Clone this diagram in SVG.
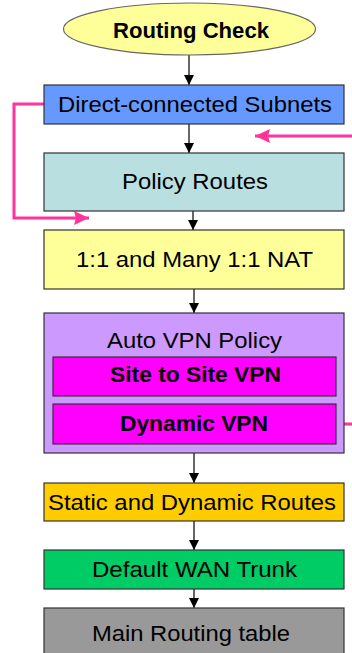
<svg xmlns="http://www.w3.org/2000/svg" width="352" height="653" viewBox="0 0 352 653">
<defs>
<marker id="ah" markerUnits="userSpaceOnUse" markerWidth="10" markerHeight="12" refX="10" refY="5" orient="auto">
<path d="M0,0 L10,5 L0,10 Z" fill="#000"/>
</marker>
<marker id="pk" markerUnits="userSpaceOnUse" markerWidth="16" markerHeight="16" refX="15" refY="7" orient="auto">
<path d="M0,0 L15,7 L0,14 L2,7 Z" fill="#FF3399"/>
</marker>
</defs>
<style>
.box{stroke:#333;stroke-width:1.2}
.t{font-family:"Liberation Sans",Arial,sans-serif;font-size:22px;fill:#000;text-anchor:middle}
.b{font-weight:bold}
.c{stroke:#000;stroke-width:1.2;fill:none}
.p{stroke:#FF3399;stroke-width:3;fill:none}
</style>
<rect width="352" height="653" fill="#fff"/>
<g id="connectors">
<line class="c" x1="189" y1="55" x2="189" y2="85" marker-end="url(#ah)"/>
<line class="c" x1="189" y1="124" x2="189" y2="153" marker-end="url(#ah)"/>
<line class="c" x1="193" y1="211" x2="193" y2="230" marker-end="url(#ah)"/>
<line class="c" x1="194" y1="289" x2="194" y2="313" marker-end="url(#ah)"/>
<line class="c" x1="194" y1="453" x2="194" y2="483" marker-end="url(#ah)"/>
<line class="c" x1="194" y1="521" x2="194" y2="550" marker-end="url(#ah)"/>
<line class="c" x1="194" y1="589" x2="194" y2="608" marker-end="url(#ah)"/>
<polyline class="p" points="44,104 14,104 14,218 89,218" marker-end="url(#pk)"/>
<line class="p" x1="352" y1="136" x2="255" y2="136" marker-end="url(#pk)"/>
<line class="p" x1="325" y1="424" x2="352" y2="424"/>
</g>
<g id="routing-check">
<ellipse cx="189.5" cy="29" rx="126" ry="26" fill="#FFFF99" stroke="#666" stroke-width="1.2"/>
<text class="t b" x="191" y="38" textLength="156" lengthAdjust="spacingAndGlyphs">Routing Check</text>
</g>
<g id="direct-connected">
<rect class="box" x="44" y="85" width="300" height="39" fill="#6699FF"/>
<text class="t" x="195" y="112" textLength="274" lengthAdjust="spacingAndGlyphs">Direct-connected Subnets</text>
</g>
<g id="policy-routes">
<rect class="box" x="44" y="153" width="300" height="58" fill="#B9DFE1"/>
<text class="t" x="195" y="189" textLength="146" lengthAdjust="spacingAndGlyphs">Policy Routes</text>
</g>
<g id="nat">
<rect class="box" x="44" y="230" width="300" height="59" fill="#FFFF99"/>
<text class="t" x="194.5" y="267" textLength="237" lengthAdjust="spacingAndGlyphs">1:1 and Many 1:1 NAT</text>
</g>
<g id="auto-vpn">
<rect class="box" x="44" y="313" width="300" height="140" fill="#CC99FF"/>
<text class="t" x="194.5" y="348" textLength="175" lengthAdjust="spacingAndGlyphs">Auto VPN Policy</text>
</g>
<g id="site-to-site">
<rect class="box" x="53" y="357" width="283" height="39" fill="#FF00FF"/>
<text class="t b" x="195.5" y="382" textLength="171" lengthAdjust="spacingAndGlyphs">Site to Site VPN</text>
</g>
<g id="dynamic-vpn">
<rect class="box" x="53" y="404" width="283" height="40" fill="#FF00FF"/>
<text class="t b" x="194" y="431" textLength="148" lengthAdjust="spacingAndGlyphs">Dynamic VPN</text>
</g>
<g id="static-dynamic">
<rect class="box" x="44" y="483" width="300" height="38" fill="#FFCC00"/>
<text class="t" x="192" y="510" textLength="288" lengthAdjust="spacingAndGlyphs">Static and Dynamic Routes</text>
</g>
<g id="default-wan">
<rect class="box" x="44" y="550" width="300" height="39" fill="#00CC66"/>
<text class="t" x="194.5" y="577" textLength="205" lengthAdjust="spacingAndGlyphs">Default WAN Trunk</text>
</g>
<g id="main-routing">
<rect class="box" x="44" y="608" width="300" height="60" fill="#999999"/>
<text class="t" x="191" y="641" textLength="198" lengthAdjust="spacingAndGlyphs">Main Routing table</text>
</g>
</svg>
